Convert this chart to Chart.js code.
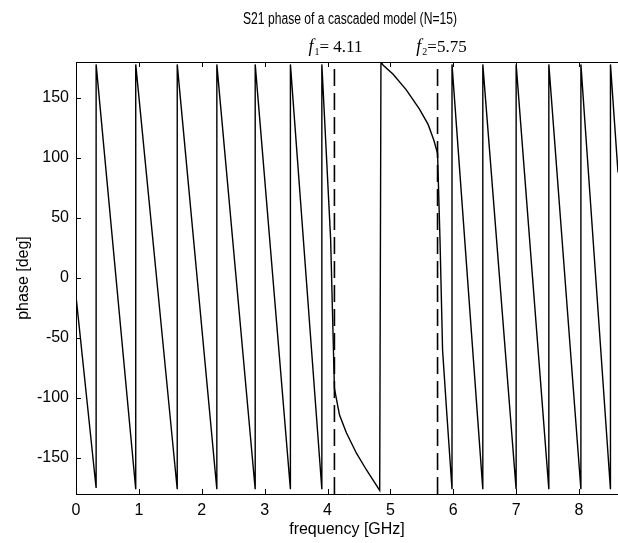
<!DOCTYPE html>
<html>
<head>
<meta charset="utf-8">
<script src="https://cdn.jsdelivr.net/npm/chart.js@4.4.1/dist/chart.umd.min.js"></script>
<style>
  html, body { margin: 0; padding: 0; background: #ffffff; }
  #wrap { width: 618px; height: 543px; }
</style>
</head>
<body>
<div id="wrap"><canvas id="c" width="618" height="543"></canvas></div>
<script>
// ---- data ----
const titleText = "S21 phase of a cascaded model (N=15)";
const xTitle = "frequency [GHz]";
const yTitle = "phase [deg]";
const xTickValues = [0, 1, 2, 3, 4, 5, 6, 7, 8];
const yTickValues = [-150, -100, -50, 0, 50, 100, 150];
const xRange = [0, 8.62];
const yRange = [-180, 180];
const bandEdges = [4.11, 5.75];
const bandLabels = ["4.11", "5.75"];

// S21 phase trace (GHz, deg); vertical pairs are the ±180 wraps
const freqGHz = [
  0.00, 0.32,
  0.32, 0.95,
  0.95, 1.61,
  1.61, 2.24,
  2.24, 2.85,
  2.85, 3.41,
  3.41, 3.91,
  3.91, 4.05, 4.11,
  4.19, 4.30, 4.46, 4.62, 4.83,
  4.85, 4.89, 5.04, 5.25, 5.46, 5.60, 5.69, 5.75,
  5.79, 5.83, 5.90, 5.98,
  5.98, 6.47,
  6.47, 7.00,
  7.00, 7.52,
  7.52, 8.03,
  8.03, 8.50,
  8.50, 8.62
];
const phaseDeg = [
  -15, -175,
  178, -176,
  178, -176,
  178, -176,
  178, -176,
  178, -176,
  178, -176,
  178, 32, -92,
  -114, -129, -146, -160, -177,
  180, 177, 170, 157, 141, 128, 115, 104,
  30, -60, -115, -176,
  178, -176,
  178, -176,
  178, -176,
  178, -176,
  178, -176,
  178, 88
];

// ---- build chart ----
const trace = freqGHz.map((f, i) => ({ x: f, y: phaseDeg[i] }));
const edgeSets = bandEdges.map(f => ({
  data: [{ x: f, y: yRange[0] }, { x: f, y: yRange[1] }],
  borderColor: '#000', borderWidth: 1.6, borderDash: [17, 7],
  pointRadius: 0, fill: false, tension: 0
}));

const SANS = "'Liberation Sans', Arial, sans-serif";
const SERIF = "'Liberation Serif', 'Times New Roman', serif";
const labelShift = [1, 4];

const framePlugin = {
  id: 'frame',
  afterDraw(chart) {
    const { ctx, chartArea: a, scales } = chart;
    ctx.save();
    ctx.strokeStyle = '#000';
    ctx.lineWidth = 1;
    // top frame line
    ctx.beginPath();
    ctx.moveTo(a.left, a.top + 0.5); ctx.lineTo(a.right, a.top + 0.5);
    ctx.stroke();
    // inward ticks
    const tl = 5;
    ctx.beginPath();
    yTickValues.forEach(v => {
      const y = Math.round(scales.y.getPixelForValue(v)) + 0.5;
      ctx.moveTo(a.left, y); ctx.lineTo(a.left + tl, y);
    });
    xTickValues.forEach(v => {
      const x = Math.round(scales.x.getPixelForValue(v)) + 0.5;
      ctx.moveTo(x, a.bottom); ctx.lineTo(x, a.bottom - tl);
      ctx.moveTo(x, a.top); ctx.lineTo(x, a.top + tl);
    });
    ctx.stroke();

    ctx.fillStyle = '#000';
    // title (narrow rendering, as in the reference)
    ctx.textBaseline = 'middle';
    ctx.textAlign = 'center';
    ctx.font = "16px " + SANS;
    const tw = ctx.measureText(titleText).width;
    const sx = 214 / tw;
    ctx.save();
    ctx.translate(350, 20);
    ctx.scale(sx, 1);
    ctx.fillText(titleText, 0, 0);
    ctx.restore();

    // axis titles
    ctx.font = "16px " + SANS;
    ctx.fillText(xTitle, (a.left + a.right) / 2, 530);
    ctx.save();
    ctx.translate(24, (a.top + a.bottom) / 2);
    ctx.rotate(-Math.PI / 2);
    ctx.fillText(yTitle, 0, 0);
    ctx.restore();

    // band edge labels: italic f, subscript index, value
    bandEdges.forEach((f, i) => {
      const cx = scales.x.getPixelForValue(f) + labelShift[i];
      const y = 52;
      const partF = 'f';
      const partSub = String(i + 1);
      const partVal = (i === 0 ? '= ' : '=') + bandLabels[i];
      ctx.font = "italic 18px " + SERIF;
      const wF = ctx.measureText(partF).width;
      ctx.font = "10px " + SERIF;
      const wS = ctx.measureText(partSub).width;
      ctx.font = "17px " + SERIF;
      const wV = ctx.measureText(partVal).width;
      let x = cx - (wF + wS + wV + 1) / 2;
      ctx.textAlign = 'left';
      ctx.textBaseline = 'alphabetic';
      ctx.font = "italic 18px " + SERIF;
      ctx.fillText(partF, x, y); x += wF + 1;
      ctx.font = "10px " + SERIF;
      ctx.fillText(partSub, x, y + 3); x += wS;
      ctx.font = "17px " + SERIF;
      ctx.fillText(partVal, x, y);
    });
    ctx.restore();
  }
};

new Chart(document.getElementById('c'), {
  type: 'line',
  data: {
    datasets: [
      { data: trace, borderColor: '#000', borderWidth: 1.4, pointRadius: 0,
        fill: false, tension: 0 },
      ...edgeSets
    ]
  },
  options: {
    responsive: false,
    animation: false,
    devicePixelRatio: 1,
    layout: { padding: { top: 62, left: 0, right: 0, bottom: 0 } },
    plugins: { legend: { display: false }, tooltip: { enabled: false }, title: { display: false } },
    scales: {
      x: {
        type: 'linear', min: xRange[0], max: xRange[1],
        afterBuildTicks: s => { s.ticks = xTickValues.map(v => ({ value: v })); },
        afterFit: s => { s.height = 49; },
        grid: { display: false, drawTicks: false },
        border: { display: true, color: '#000', width: 1 },
        ticks: { color: '#000', font: { family: SANS, size: 16 }, padding: 7, maxRotation: 0, autoSkip: false }
      },
      y: {
        type: 'linear', min: yRange[0], max: yRange[1],
        afterBuildTicks: s => { s.ticks = yTickValues.map(v => ({ value: v })); },
        afterFit: s => { s.width = 76; },
        grid: { display: false, drawTicks: false },
        border: { display: true, color: '#000', width: 1 },
        ticks: { color: '#000', font: { family: SANS, size: 16 }, padding: 7, autoSkip: false }
      }
    }
  },
  plugins: [framePlugin]
});
</script>
</body>
</html>
